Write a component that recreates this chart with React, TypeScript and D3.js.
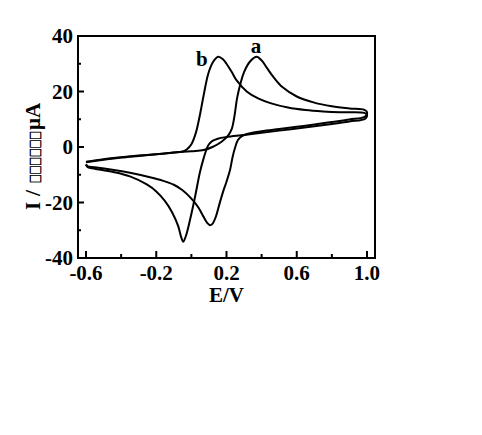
import React from "react";
import * as d3 from "d3";

// Curve a: forward (anodic) scan then reverse scan
const aE = [-0.6, -0.5, -0.4, -0.3, -0.2, -0.1, 0.0, 0.07, 0.12, 0.17, 0.21, 0.23, 0.245, 0.26, 0.28, 0.3, 0.334, 0.372, 0.4, 0.43, 0.47, 0.52, 0.6, 0.7, 0.8, 0.9, 0.985, 1.0,
  0.99, 0.9, 0.8, 0.7, 0.6, 0.5, 0.4, 0.33, 0.29, 0.265, 0.25, 0.235, 0.22, 0.2, 0.182, 0.16, 0.14, 0.12, 0.106, 0.092, 0.068, 0.04, 0.0, -0.05, -0.1, -0.16, -0.236, -0.35, -0.45, -0.55, -0.59, -0.6];
const aI = [-5.3, -4.4, -3.7, -3.1, -2.6, -2.0, -1.5, -1.1, 0.0, 1.8, 4.2, 6.5, 11, 17.5, 23, 27, 30.8, 32.5, 31.2, 28.5, 25, 21.5, 18.2, 16.0, 14.7, 13.9, 13.4, 12.6,
  11.0, 9.9, 9.0, 8.1, 7.3, 6.5, 5.7, 4.9, 4.0, 2.5, 0.0, -3.5, -8.3, -12.5, -15.8, -20.5, -25.0, -27.7, -28.2, -27.5, -25.0, -21.8, -18.6, -15.6, -13.6, -12.2, -10.9, -9.3, -8.2, -7.3, -7.0, -6.2];

// Curve b
const bE = [-0.6, -0.5, -0.4, -0.3, -0.2, -0.1, -0.05, -0.025, 0.0, 0.025, 0.05, 0.068, 0.097, 0.125, 0.153, 0.18, 0.2, 0.23, 0.258, 0.315, 0.38, 0.45, 0.55, 0.65, 0.75, 0.85, 0.985, 1.0,
  0.99, 0.9, 0.8, 0.7, 0.6, 0.5, 0.4, 0.3, 0.2, 0.15, 0.12, 0.1, 0.085, 0.07, 0.049, 0.021, -0.008, -0.03, -0.046, -0.058, -0.075, -0.11, -0.15, -0.2, -0.254, -0.35, -0.445, -0.55, -0.59, -0.6];
const bI = [-5.5, -4.6, -3.8, -3.2, -2.6, -2.0, -1.6, -0.8, 1.0, 5, 12, 18, 26.6, 30.8, 32.5, 31.6, 30, 27, 24, 20, 17.5, 15.8, 14.2, 13.3, 12.8, 12.5, 12.3, 11.6,
  10.2, 9.2, 8.3, 7.5, 6.7, 5.9, 5.1, 4.3, 3.6, 3.0, 2.2, 1.0, -1.0, -4.0, -9.0, -17.9, -26.3, -31.8, -34.1, -32.5, -28.5, -23.5, -19.5, -16.0, -13.5, -10.6, -9.0, -7.8, -7.3, -6.4];

const xMajor = [-0.6, -0.2, 0.2, 0.6, 1.0];
const xMinor = [-0.4, 0.0, 0.4, 0.8];
const yMajor = [-40, -20, 0, 20, 40];
const yMinor = [-30, -10, 10, 30];
const xLabels = ["-0.6", "-0.2", "0.2", "0.6", "1.0"];
const yLabels = ["-40", "-20", "0", "20", "40"];
const curveNames = ["a", "b"];
const curveLabelE = [0.368, 0.059];
const curveLabelI = [33.8, 29.3];

const W = 482, H = 435;
const L = 78, T = 36, R = 375, B = 258;
const FONT = "'Liberation Serif', 'Times New Roman', serif";

export default function App() {
  const x = d3.scaleLinear().domain([-0.6456, 1.0456]).range([L, R]);
  const y = d3.scaleLinear().domain([-40, 40]).range([B, T]);
  const line = d3.line<[number, number]>()
    .x(d => x(d[0])).y(d => y(d[1]))
    .curve(d3.curveCatmullRom.alpha(0.5));
  const aPts = aE.map((e, i) => [e, aI[i]] as [number, number]);
  const bPts = bE.map((e, i) => [e, bI[i]] as [number, number]);

  const lx = 40, ly0 = 212;
  return (
    <svg width={W} height={H} style={{ position: "absolute", left: 0, top: 0, background: "#fff" }}>
      <rect x={0} y={0} width={W} height={H} fill="#fff" />
      <path d={line(aPts) || ""} fill="none" stroke="#000" strokeWidth={2} strokeLinejoin="round" />
      <path d={line(bPts) || ""} fill="none" stroke="#000" strokeWidth={2} strokeLinejoin="round" />
      <rect x={L} y={T} width={R - L} height={B - T} fill="none" stroke="#000" strokeWidth={2} />
      {xMajor.map((v, i) => (
        <g key={"xm" + i}>
          <line x1={x(v)} x2={x(v)} y1={B} y2={B - 7} stroke="#000" strokeWidth={2} />
          <text x={x(v)} y={280} textAnchor="middle" fontFamily={FONT} fontWeight="bold" fontSize={21}>{xLabels[i]}</text>
        </g>
      ))}
      {xMinor.map((v, i) => (
        <line key={"xn" + i} x1={x(v)} x2={x(v)} y1={B} y2={B - 4} stroke="#000" strokeWidth={2} />
      ))}
      {yMajor.map((v, i) => (
        <g key={"ym" + i}>
          <line x1={L} x2={L + 6} y1={y(v)} y2={y(v)} stroke="#000" strokeWidth={2} />
          <text x={73} y={y(v)} dy="0.35em" textAnchor="end" fontFamily={FONT} fontWeight="bold" fontSize={21}>{yLabels[i]}</text>
        </g>
      ))}
      {yMinor.map((v, i) => (
        <line key={"yn" + i} x1={L} x2={L + 3} y1={y(v)} y2={y(v)} stroke="#000" strokeWidth={2} />
      ))}
      <text x={(L + R) / 2} y={302} textAnchor="middle" fontFamily={FONT} fontWeight="bold" fontSize={21}>E/V</text>
      <g transform={`translate(${lx},${ly0}) rotate(-90)`}>
        <text x={2} y={0} fontFamily={FONT} fontWeight="bold" fontSize={21}>I</text>
        <text x={16} y={0} fontFamily={FONT} fontWeight="bold" fontSize={22}>/</text>
        <text x={29} y={0} fill="#000" stroke="#000" strokeWidth={0.5} fontFamily="'Noto Sans CJK SC', 'DejaVu Sans', sans-serif" fontSize={13} textLength={52} lengthAdjust="spacingAndGlyphs">□□□□□□</text>
        <text x={82} y={0} fontFamily={FONT} fontWeight="bold" fontSize={21}>μA</text>
      </g>
      {curveNames.map((n, i) => (
        <text key={n} x={x(curveLabelE[i])} y={y(curveLabelI[i])} textAnchor="middle" fontFamily={FONT} fontWeight="bold" fontSize={21}>{n}</text>
      ))}
    </svg>
  );
}
